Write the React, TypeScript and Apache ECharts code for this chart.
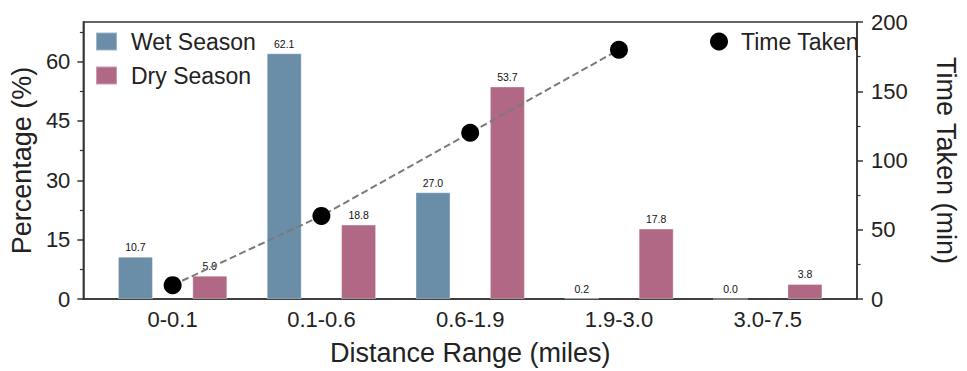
import React, { useEffect, useRef } from "react";
import * as echarts from "echarts";

const categories = ["0-0.1", "0.1-0.6", "0.6-1.9", "1.9-3.0", "3.0-7.5"];
const wetSeason = [10.7, 62.1, 27.0, 0.2, 0.0];
const drySeason = [5.9, 18.8, 53.7, 17.8, 3.8];
const timeTaken = [10, 60, 120, 180];
const pctTicks = [0, 15, 30, 45, 60];
const pctMinorTicks = [7.5, 22.5, 37.5, 52.5, 67.5];
const categoryPositions = [0, 1, 2, 3, 4];

const FONT = "'Liberation Sans', Arial, Helvetica, sans-serif";
const TEXT = "#222";
const AXIS = "#333";
const WET = "#6b8ea8";
const DRY = "#b06884";

export default function App() {
  const ref = useRef<HTMLDivElement>(null);
  useEffect(() => {
    if (!ref.current) return;
    const chart = echarts.init(ref.current, undefined, { renderer: "svg" });
    const barLabel = {
      show: true,
      position: "top",
      distance: 4,
      fontSize: 10.5,
      fontFamily: FONT,
      color: "#111",
      formatter: (p: any) => Number(p.value[1]).toFixed(1),
    };
    chart.setOption({
      animation: false,
      textStyle: { fontFamily: FONT, color: TEXT },
      grid: {
        left: 82,
        right: 96,
        top: 22,
        bottom: 68,
        show: true,
        borderColor: AXIS,
        borderWidth: 1.5,
        backgroundColor: "transparent",
      },
      legend: [
        {
          data: ["Wet Season", "Dry Season"],
          orient: "vertical",
          left: 95,
          top: 30,
          padding: 0,
          itemWidth: 21,
          itemHeight: 18,
          itemGap: 11,
          icon: "rect",
          textStyle: { fontSize: 23, fontFamily: FONT, color: TEXT, padding: [0, 0, 0, 9] },
        },
        {
          data: [{ name: "Time Taken", icon: "circle" }],
          left: 710,
          top: 30,
          padding: 0,
          itemWidth: 18,
          itemHeight: 18,
          textStyle: { fontSize: 23, fontFamily: FONT, color: TEXT, padding: [0, 0, 0, 8] },
        },
      ],
      xAxis: {
        type: "value",
        min: -0.6,
        max: 4.6,
        name: "Distance Range (miles)",
        nameLocation: "middle",
        nameGap: 40,
        nameTextStyle: { fontSize: 27, fontFamily: FONT, color: TEXT },
        axisLine: { show: true, onZero: false, lineStyle: { color: AXIS, width: 1.5 } },
        axisTick: { show: false },
        splitLine: { show: false },
        axisLabel: {
          customValues: categoryPositions,
          formatter: (v: number) => categories[Math.round(v)] ?? "",
          fontSize: 22,
          fontFamily: FONT,
          color: TEXT,
          margin: 9,
        },
      },
      yAxis: [
        {
          type: "value",
          position: "left",
          min: 0,
          max: 70,
          name: "Percentage (%)",
          nameLocation: "middle",
          nameGap: 47,
          nameTextStyle: { fontSize: 27, fontFamily: FONT, color: TEXT },
          axisLine: { show: true, onZero: false, lineStyle: { color: AXIS, width: 1.5 } },
          axisTick: { show: true, customValues: pctTicks, length: 6, lineStyle: { color: AXIS, width: 1.5 } },
          axisLabel: { customValues: pctTicks, fontSize: 22, fontFamily: FONT, color: TEXT, margin: 13 },
          splitLine: { show: false },
        },
        {
          type: "value",
          position: "left",
          min: 0,
          max: 70,
          axisLine: { show: false, onZero: false },
          axisTick: { show: true, customValues: pctMinorTicks, length: 3.5, lineStyle: { color: AXIS, width: 1.2 } },
          axisLabel: { show: false },
          splitLine: { show: false },
        },
        {
          type: "value",
          position: "right",
          min: 0,
          max: 200,
          interval: 50,
          name: "Time Taken (min)",
          nameLocation: "middle",
          nameRotate: -90,
          nameGap: 75,
          nameTextStyle: { fontSize: 27, fontFamily: FONT, color: TEXT },
          axisLine: { show: true, onZero: false, lineStyle: { color: AXIS, width: 1.5 } },
          axisTick: { show: true, length: 6, lineStyle: { color: AXIS, width: 1.5 } },
          minorTick: { show: true, splitNumber: 2, length: 3.5, lineStyle: { color: AXIS, width: 1.2 } },
          axisLabel: { fontSize: 22, fontFamily: FONT, color: TEXT, margin: 14 },
          splitLine: { show: false },
        },
      ],
      series: [
        {
          name: "Wet Season",
          type: "bar",
          yAxisIndex: 0,
          barWidth: 35,
          barGap: "-100%",
          itemStyle: { color: WET, borderColor: "rgba(255,255,255,0.35)", borderWidth: 1 },
          label: barLabel,
          data: wetSeason.map((v, i) => [categoryPositions[i] - 0.25, v]),
        },
        {
          name: "Dry Season",
          type: "bar",
          yAxisIndex: 0,
          barWidth: 35,
          barGap: "-100%",
          itemStyle: { color: DRY, borderColor: "rgba(255,255,255,0.35)", borderWidth: 1 },
          label: barLabel,
          data: drySeason.map((v, i) => [categoryPositions[i] + 0.25, v]),
        },
        {
          name: "Time Taken",
          type: "line",
          yAxisIndex: 2,
          symbol: "circle",
          symbolSize: 18,
          z: 5,
          itemStyle: { color: "#000" },
          lineStyle: { color: "#7a7a7a", width: 2, type: [7, 3.5] },
          data: timeTaken.map((v, i) => [categoryPositions[i], v]),
        },
      ],
    });
    return () => chart.dispose();
  }, []);
  return (
    <div
      ref={ref}
      style={{ position: "fixed", left: 0, top: 0, width: 967, height: 371, background: "#fff" }}
    />
  );
}
